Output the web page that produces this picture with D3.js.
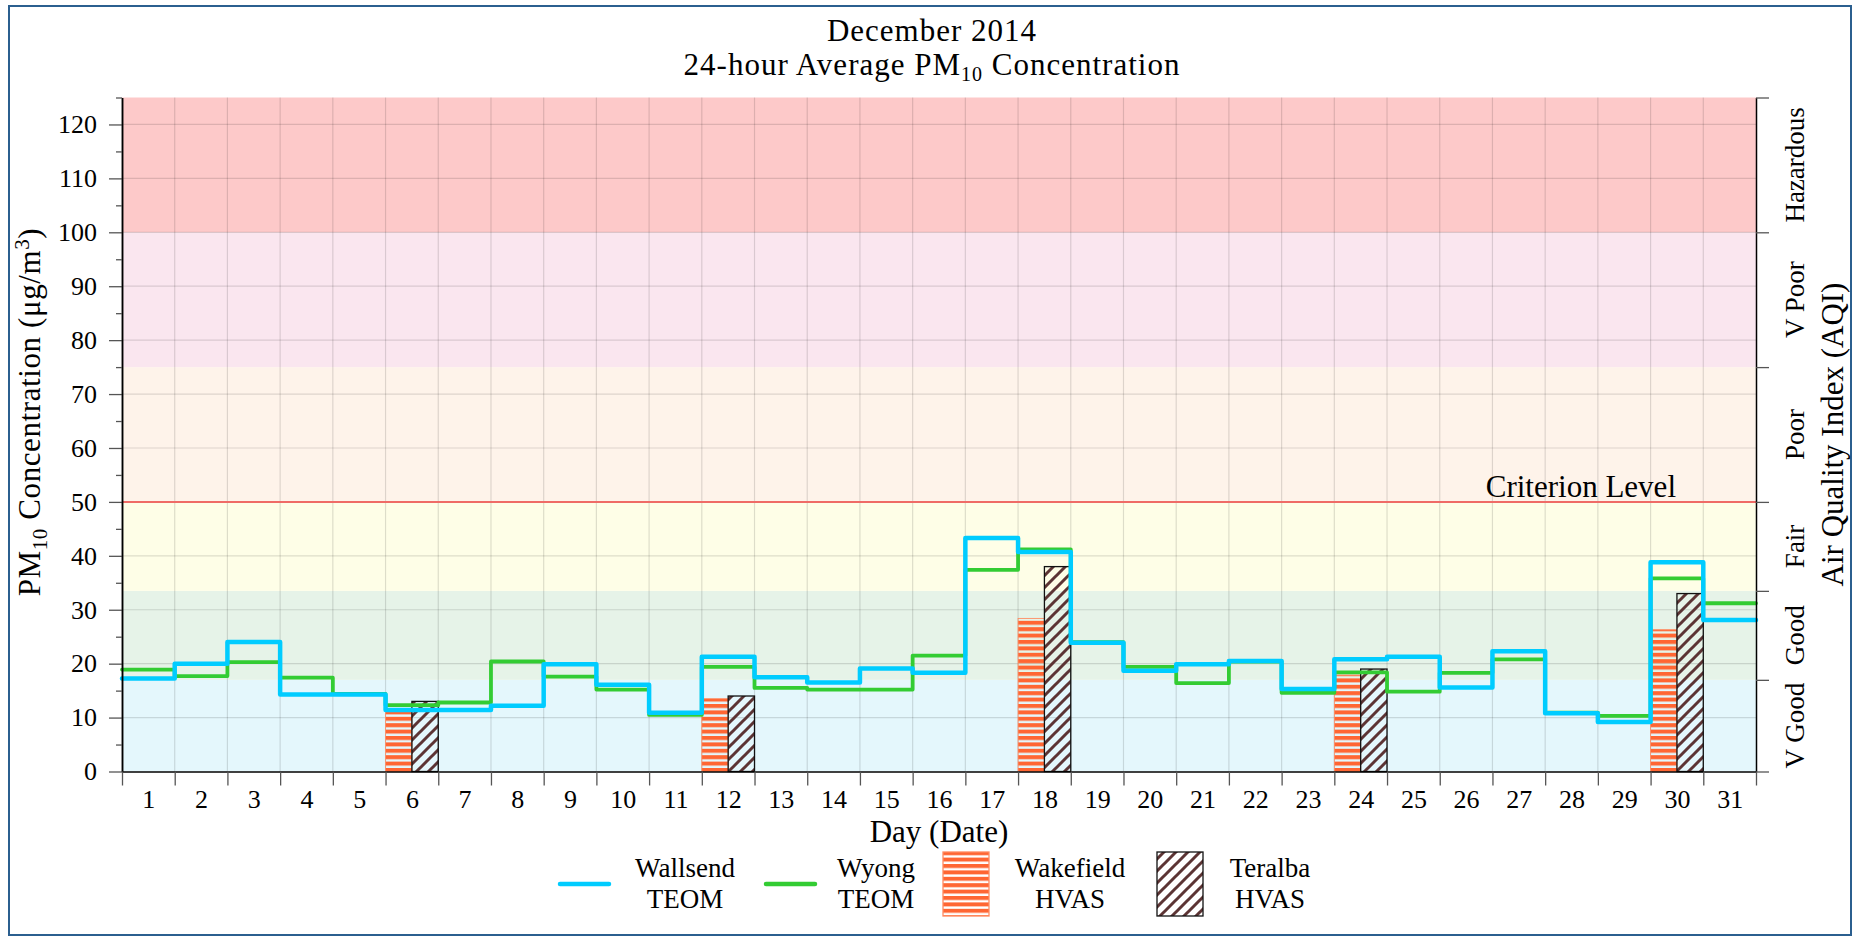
<!DOCTYPE html>
<html>
<head>
<meta charset="utf-8">
<script src="https://cdn.jsdelivr.net/npm/d3@7.9.0/dist/d3.min.js"></script>
<style>
  body { margin: 0; background: #fff; }
  svg text { font-family: "Liberation Serif", "DejaVu Serif", serif; fill: #000; }
</style>
</head>
<body>
<svg id="chart" width="1854" height="938"></svg>
<script>
// daily 24-hour averages, December 2014 (ug/m3)
const days = d3.range(1, 32);
const wallsend = [17.25, 20.0, 24.0, 14.3, 14.3, 11.4, 11.4, 12.2, 19.9, 16.1, 10.9, 21.3, 17.5, 16.5, 19.1, 18.3,
  43.3, 40.7, 23.9, 18.7, 19.9, 20.5, 15.3, 20.8, 21.3, 15.6, 22.3, 10.8, 9.2, 38.8, 28.1];
const wyong = [18.9, 17.7, 20.3, 17.4, 14.4, 12.3, 12.8, 20.4, 17.6, 15.2, 10.5, 19.4, 15.5, 15.2, 15.2, 21.5,
  37.4, 41.2, 24.0, 19.4, 16.4, 20.4, 14.6, 18.4, 14.8, 18.3, 20.8, 10.9, 10.3, 35.8, 31.2];

// HVAS samples every sixth day
const hvasDays = [6, 12, 18, 24, 30];
const wakefield = [11.5, 13.5, 28.4, 17.9, 26.3];
const teralba = [13.0, 14.0, 38.0, 19.0, 33.0];

// AQI categories
const bandEdges = [0, 17, 33.5, 50, 75, 100, 125];
const bandNames = ['V Good', 'Good', 'Fair', 'Poor', 'V Poor', 'Hazardous'];
const bandColors = ['#e4f7fc', '#e6f3e8', '#fefee7', '#fef3ea', '#fae6ef', '#fdc9c9'];
const criterion = 50;

const yTicks = d3.range(0, 121, 10);
const yMinor = d3.range(5, 126, 10);

const svg = d3.select('#chart');
const x = d3.scaleLinear().domain([0, 31]).range([122, 1756]);
const y = d3.scaleLinear().domain([0, 125]).range([771.5, 97.5]);

// outer frame
svg.append('rect').attr('x', 9).attr('y', 6).attr('width', 1842).attr('height', 929)
  .attr('fill', 'none').attr('stroke', '#2b5f8f').attr('stroke-width', 2);

// fill patterns
const defs = svg.append('defs');
const stripes = defs.append('pattern').attr('id', 'stripes')
  .attr('patternUnits', 'userSpaceOnUse').attr('width', 8).attr('height', 6.4);
stripes.append('rect').attr('width', 8).attr('height', 4).attr('fill', '#ff6633');

const hatch = defs.append('pattern').attr('id', 'hatch')
  .attr('patternUnits', 'userSpaceOnUse').attr('width', 12).attr('height', 12);
hatch.append('path').attr('d', 'M-3,3 L3,-3 M0,12 L12,0 M9,15 L15,9')
  .attr('stroke', '#5c3434').attr('stroke-width', 3);

// AQI bands
svg.append('g').selectAll('rect')
  .data(bandNames)
  .join('rect')
  .attr('x', x(0))
  .attr('width', x(31) - x(0))
  .attr('y', (d, i) => y(bandEdges[i + 1]))
  .attr('height', (d, i) => y(bandEdges[i]) - y(bandEdges[i + 1]))
  .attr('fill', (d, i) => bandColors[i]);

// grid
const grid = svg.append('g').attr('stroke', 'rgba(0,0,0,0.13)').attr('stroke-width', 1.2);
grid.selectAll('.gx').data(d3.range(1, 31)).join('line')
  .attr('x1', d => x(d)).attr('x2', d => x(d)).attr('y1', y(0)).attr('y2', y(125));
grid.selectAll('.gy').data(yTicks.slice(1)).join('line')
  .attr('x1', x(0)).attr('x2', x(31)).attr('y1', d => y(d)).attr('y2', d => y(d));

// criterion level
svg.append('line').attr('x1', x(0)).attr('x2', x(31))
  .attr('y1', y(criterion)).attr('y2', y(criterion))
  .attr('stroke', '#ef6b66').attr('stroke-width', 2);
svg.append('text').attr('x', 1676).attr('y', y(criterion) - 5)
  .attr('text-anchor', 'end').attr('font-size', 31).text('Criterion Level');

// HVAS bars
const half = (x(1) - x(0)) / 2;
svg.append('g').selectAll('rect')
  .data(hvasDays)
  .join('rect')
  .attr('x', d => x(d - 1))
  .attr('width', half)
  .attr('y', (d, i) => y(wakefield[i]))
  .attr('height', (d, i) => y(0) - y(wakefield[i]))
  .attr('fill', 'url(#stripes)')
  .attr('stroke', '#ff8a60').attr('stroke-width', 0.8);

svg.append('g').selectAll('rect')
  .data(hvasDays)
  .join('rect')
  .attr('x', d => x(d - 1) + half)
  .attr('width', half)
  .attr('y', (d, i) => y(teralba[i]))
  .attr('height', (d, i) => y(0) - y(teralba[i]))
  .attr('fill', 'url(#hatch)')
  .attr('stroke', '#111').attr('stroke-width', 1.3);

// TEOM step lines
const step = d3.line().x(d => x(d[0])).y(d => y(d[1])).curve(d3.curveStepAfter);
const stepPoints = vals => vals.map((v, i) => [i, v]).concat([[31, vals[vals.length - 1]]]);

svg.append('path').attr('d', step(stepPoints(wyong)))
  .attr('fill', 'none').attr('stroke', '#33cc33').attr('stroke-width', 3.8)
  .attr('stroke-linejoin', 'round').attr('stroke-linecap', 'round');
svg.append('path').attr('d', step(stepPoints(wallsend)))
  .attr('fill', 'none').attr('stroke', '#00ccff').attr('stroke-width', 4.5)
  .attr('stroke-linejoin', 'round').attr('stroke-linecap', 'round');

// axes
const styleAxis = g => {
  g.attr('font-family', null).attr('font-size', 26);
  g.select('.domain').attr('stroke', '#000').attr('stroke-width', 1.5);
  g.selectAll('.tick line').attr('stroke', '#555').attr('stroke-width', 1.3);
  g.selectAll('.tick text').attr('fill', '#000');
};

svg.append('g').attr('transform', `translate(${x(0)},0)`)
  .call(d3.axisLeft(y).tickValues(yTicks).tickSize(13).tickSizeOuter(0).tickPadding(12))
  .call(styleAxis);
svg.append('g').attr('transform', `translate(${x(0)},0)`)
  .call(d3.axisLeft(y).tickValues(yMinor).tickSize(6).tickSizeOuter(0).tickFormat(''))
  .call(styleAxis);

svg.append('g').attr('transform', `translate(${x(31)},0)`)
  .call(d3.axisRight(y).tickValues(bandEdges).tickSize(13).tickSizeOuter(0).tickFormat(''))
  .call(styleAxis);

svg.append('g').attr('transform', `translate(0,${y(0)})`)
  .call(d3.axisBottom(x).tickValues(d3.range(0, 32)).tickSize(14).tickSizeOuter(0).tickFormat(''))
  .call(styleAxis);
svg.append('g').attr('transform', `translate(0,${y(0)})`)
  .call(d3.axisBottom(x).tickValues(days.map(d => d - 0.5)).tickSize(0).tickPadding(18)
    .tickFormat(d => d + 0.5))
  .call(styleAxis)
  .call(g => g.select('.domain').remove());

// band labels on the right
svg.append('g').selectAll('text')
  .data(bandNames)
  .join('text')
  .attr('transform', (d, i) => `translate(1804,${y((bandEdges[i] + bandEdges[i + 1]) / 2)}) rotate(-90)`)
  .attr('text-anchor', 'middle').attr('font-size', 27)
  .text(d => d);

svg.append('text').attr('transform', `translate(1843,${(y(0) + y(125)) / 2}) rotate(-90)`)
  .attr('text-anchor', 'middle').attr('font-size', 31).text('Air Quality Index (AQI)');

// titles
const title = svg.append('g').attr('text-anchor', 'middle').attr('letter-spacing', 1);
title.append('text').attr('x', 932).attr('y', 41).attr('font-size', 31).text('December 2014');
const t2 = title.append('text').attr('x', 932).attr('y', 75).attr('font-size', 31);
t2.append('tspan').text('24-hour Average PM');
t2.append('tspan').attr('font-size', 20).attr('dy', 6).text('10');
t2.append('tspan').attr('dy', -6).text(' Concentration');

const yl = svg.append('text').attr('transform', 'translate(40,412) rotate(-90)')
  .attr('text-anchor', 'middle').attr('font-size', 31).attr('letter-spacing', 0.6);
yl.append('tspan').text('PM');
yl.append('tspan').attr('font-size', 21).attr('dy', 7).text('10');
yl.append('tspan').attr('dy', -7).text(' Concentration (μg/m');
yl.append('tspan').attr('font-size', 21).attr('dy', -11).text('3');
yl.append('tspan').attr('dy', 11).text(')');

svg.append('text').attr('x', (x(0) + x(31)) / 2).attr('y', 842)
  .attr('text-anchor', 'middle').attr('font-size', 31).text('Day (Date)');

// legend
const legendItems = [
  { name: 'Wallsend', kind: 'TEOM', type: 'line', color: '#00ccff', x: 560, tx: 685 },
  { name: 'Wyong', kind: 'TEOM', type: 'line', color: '#33cc33', x: 766, tx: 876 },
  { name: 'Wakefield', kind: 'HVAS', type: 'patch', fill: 'url(#stripes)', stroke: '#ff8a60', x: 943, tx: 1070 },
  { name: 'Teralba', kind: 'HVAS', type: 'patch', fill: 'url(#hatch)', stroke: '#111', x: 1157, tx: 1270 }
];
const legend = svg.append('g');
legendItems.forEach(d => {
  if (d.type === 'line') {
    legend.append('line').attr('x1', d.x).attr('x2', d.x + 49).attr('y1', 884).attr('y2', 884)
      .attr('stroke', d.color).attr('stroke-width', 4.5).attr('stroke-linecap', 'round');
  } else {
    legend.append('rect').attr('x', d.x).attr('y', 852).attr('width', 46).attr('height', 64)
      .attr('fill', '#fff');
    legend.append('rect').attr('x', d.x).attr('y', 852).attr('width', 46).attr('height', 64)
      .attr('fill', d.fill).attr('stroke', d.stroke).attr('stroke-width', 1.3);
  }
  legend.append('text').attr('x', d.tx).attr('y', 877).attr('text-anchor', 'middle')
    .attr('font-size', 27).text(d.name);
  legend.append('text').attr('x', d.tx).attr('y', 908).attr('text-anchor', 'middle')
    .attr('font-size', 27).text(d.kind);
});
</script>
</body>
</html>
